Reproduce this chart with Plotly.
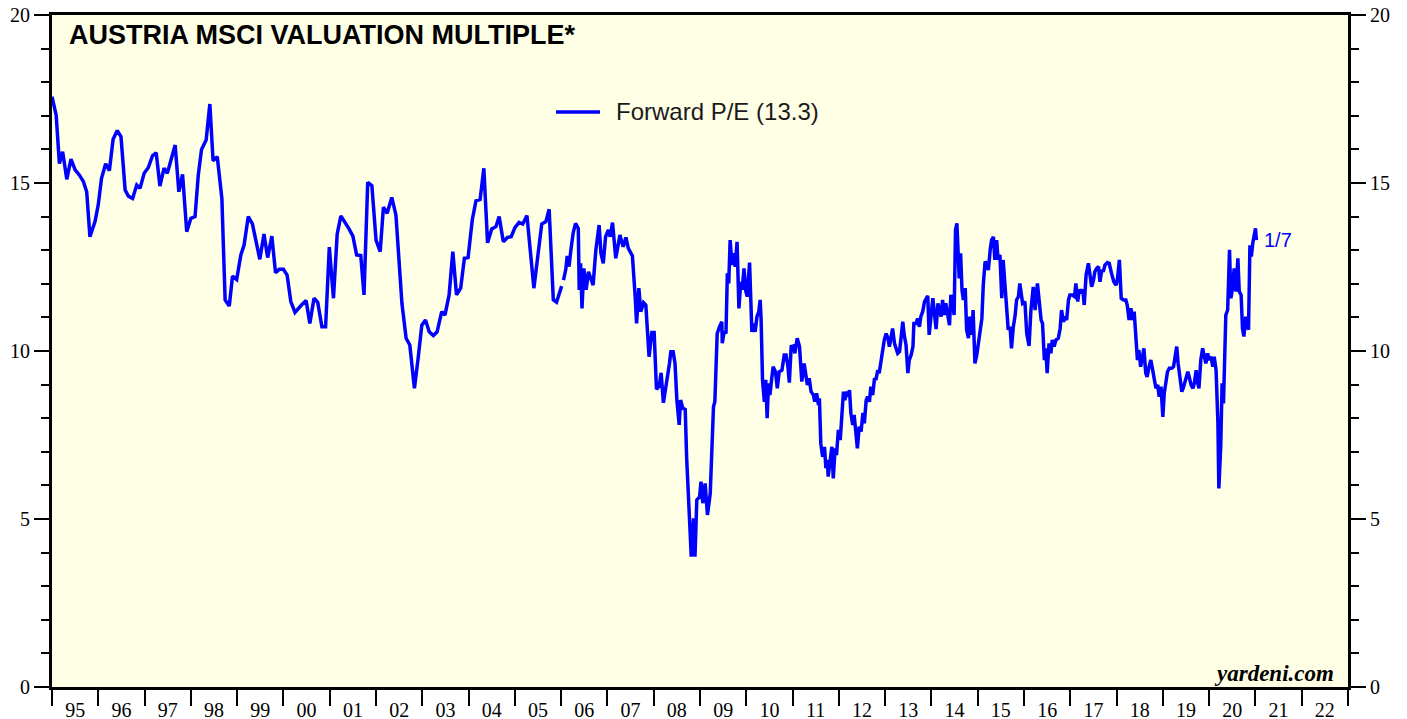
"""
Austria MSCI forward P/E, Yardeni style chart.
"""
from datetime import datetime

import plotly.graph_objects as go

years = [
    1995.00, 1995.09, 1995.16, 1995.23, 1995.32, 1995.41, 1995.50, 1995.59, 1995.68, 1995.75,
    1995.82, 1995.93, 1996.00, 1996.07, 1996.16, 1996.24, 1996.32, 1996.41, 1996.49, 1996.58,
    1996.65, 1996.74, 1996.83, 1996.90, 1996.99, 1997.08, 1997.17, 1997.25, 1997.33, 1997.42,
    1997.49, 1997.66, 1997.74, 1997.82, 1997.91, 1998.00, 1998.09, 1998.16, 1998.23, 1998.33,
    1998.41, 1998.48, 1998.57, 1998.67, 1998.74, 1998.83, 1998.90, 1998.99, 1999.08, 1999.15,
    1999.24, 1999.33, 1999.49, 1999.58, 1999.66, 1999.75, 1999.83, 1999.91, 2000.00, 2000.08,
    2000.16, 2000.25, 2000.39, 2000.49, 2000.57, 2000.66, 2000.74, 2000.83, 2000.91, 2000.99,
    2001.08, 2001.16, 2001.24, 2001.32, 2001.41, 2001.50, 2001.58, 2001.67, 2001.74, 2001.82,
    2001.91, 2002.00, 2002.09, 2002.16, 2002.24, 2002.34, 2002.43, 2002.56, 2002.65, 2002.73,
    2002.83, 2002.91, 2002.99, 2003.07, 2003.15, 2003.24, 2003.32, 2003.42, 2003.49, 2003.58,
    2003.66, 2003.74, 2003.83, 2003.91, 2003.99, 2004.08, 2004.16, 2004.25, 2004.33, 2004.41,
    2004.50, 2004.59, 2004.66, 2004.75, 2004.84, 2004.92, 2005.00, 2005.09, 2005.17, 2005.26,
    2005.41, 2005.58, 2005.67, 2005.74, 2005.83, 2005.90, 2006.01, 2006.03, 2006.05, 2006.10,
    2006.13, 2006.17, 2006.21, 2006.26, 2006.31, 2006.37, 2006.39, 2006.42, 2006.45, 2006.49,
    2006.54, 2006.59, 2006.64, 2006.69, 2006.75, 2006.82, 2006.86, 2006.91, 2006.96, 2007.02,
    2007.06, 2007.11, 2007.18, 2007.27, 2007.34, 2007.40, 2007.45, 2007.54, 2007.60, 2007.63,
    2007.68, 2007.72, 2007.78, 2007.83, 2007.90, 2007.96, 2008.01, 2008.06, 2008.12, 2008.16,
    2008.21, 2008.28, 2008.34, 2008.37, 2008.42, 2008.46, 2008.50, 2008.55, 2008.58, 2008.63,
    2008.68, 2008.71, 2008.76, 2008.81, 2008.86, 2008.89, 2008.93, 2008.99, 2009.02, 2009.06,
    2009.11, 2009.16, 2009.22, 2009.25, 2009.29, 2009.32, 2009.37, 2009.42, 2009.47, 2009.48,
    2009.52, 2009.56, 2009.59, 2009.62, 2009.65, 2009.69, 2009.72, 2009.76, 2009.80, 2009.84,
    2009.88, 2009.91, 2009.95, 2009.99, 2010.02, 2010.07, 2010.12, 2010.15, 2010.19, 2010.23,
    2010.27, 2010.30, 2010.32, 2010.35, 2010.39, 2010.42, 2010.45, 2010.48, 2010.51, 2010.55,
    2010.58, 2010.63, 2010.67, 2010.71, 2010.77, 2010.82, 2010.86, 2010.90, 2010.93, 2010.97,
    2011.02, 2011.05, 2011.10, 2011.15, 2011.20, 2011.25, 2011.29, 2011.32, 2011.36, 2011.40,
    2011.45, 2011.48, 2011.52, 2011.56, 2011.58, 2011.61, 2011.65, 2011.69, 2011.72, 2011.75,
    2011.77, 2011.81, 2011.85, 2011.88, 2011.92, 2011.95, 2011.99, 2012.03, 2012.07, 2012.10,
    2012.13, 2012.17, 2012.20, 2012.23, 2012.26, 2012.30, 2012.33, 2012.37, 2012.40, 2012.44,
    2012.48, 2012.52, 2012.55, 2012.59, 2012.62, 2012.66, 2012.69, 2012.73, 2012.77, 2012.80,
    2012.84, 2012.87, 2012.90, 2012.95, 2012.98, 2013.02, 2013.06, 2013.09, 2013.12, 2013.16,
    2013.20, 2013.23, 2013.27, 2013.31, 2013.34, 2013.38, 2013.41, 2013.45, 2013.49, 2013.52,
    2013.56, 2013.60, 2013.62, 2013.67, 2013.70, 2013.74, 2013.77, 2013.81, 2013.85, 2013.88,
    2013.92, 2013.95, 2013.99, 2014.03, 2014.06, 2014.10, 2014.14, 2014.17, 2014.21, 2014.24,
    2014.28, 2014.31, 2014.35, 2014.39, 2014.42, 2014.46, 2014.49, 2014.52, 2014.55, 2014.57,
    2014.60, 2014.63, 2014.66, 2014.69, 2014.73, 2014.76, 2014.80, 2014.83, 2014.87, 2014.90,
    2014.94, 2014.98, 2015.01, 2015.05, 2015.09, 2015.12, 2015.16, 2015.19, 2015.23, 2015.27,
    2015.30, 2015.34, 2015.37, 2015.41, 2015.44, 2015.48, 2015.52, 2015.55, 2015.59, 2015.63,
    2015.66, 2015.70, 2015.73, 2015.77, 2015.81, 2015.84, 2015.88, 2015.91, 2015.97, 2016.02,
    2016.06, 2016.11, 2016.15, 2016.20, 2016.24, 2016.29, 2016.33, 2016.37, 2016.40, 2016.44,
    2016.47, 2016.50, 2016.54, 2016.58, 2016.61, 2016.65, 2016.69, 2016.74, 2016.78, 2016.81,
    2016.85, 2016.89, 2016.92, 2016.96, 2016.99, 2017.04, 2017.09, 2017.12, 2017.16, 2017.19,
    2017.23, 2017.27, 2017.30, 2017.34, 2017.39, 2017.43, 2017.46, 2017.50, 2017.53, 2017.57,
    2017.61, 2017.64, 2017.68, 2017.71, 2017.75, 2017.80, 2017.84, 2017.89, 2017.94, 2017.99,
    2018.02, 2018.06, 2018.10, 2018.15, 2018.20, 2018.23, 2018.27, 2018.31, 2018.34, 2018.38,
    2018.42, 2018.45, 2018.48, 2018.52, 2018.56, 2018.59, 2018.63, 2018.66, 2018.70, 2018.74,
    2018.78, 2018.82, 2018.85, 2018.89, 2018.92, 2018.96, 2019.00, 2019.03, 2019.07, 2019.10,
    2019.14, 2019.19, 2019.23, 2019.26, 2019.30, 2019.33, 2019.37, 2019.41, 2019.44, 2019.49,
    2019.54, 2019.57, 2019.61, 2019.65, 2019.68, 2019.72, 2019.74, 2019.78, 2019.80, 2019.82,
    2019.86, 2019.90, 2019.93, 2019.97, 2020.00, 2020.04, 2020.08, 2020.11, 2020.15, 2020.19,
    2020.21, 2020.25, 2020.28, 2020.31, 2020.34, 2020.36, 2020.40, 2020.44, 2020.47, 2020.51,
    2020.54, 2020.58, 2020.62, 2020.65, 2020.69, 2020.72, 2020.75, 2020.79, 2020.82, 2020.85,
    2020.88, 2020.91, 2020.94, 2020.97, 2021.00, 2021.02,
]

# forward P/E; None marks the break in the series early in 2006
fwd_pe = [
    17.57, 17.02, 15.58, 15.93, 15.11, 15.71, 15.39, 15.24, 15.04, 14.74,
    13.40, 13.85, 14.35, 15.14, 15.57, 15.37, 16.30, 16.56, 16.38, 14.79,
    14.61, 14.54, 14.94, 14.84, 15.29, 15.46, 15.81, 15.90, 14.91, 15.44,
    15.29, 16.13, 14.74, 15.26, 13.55, 13.95, 14.00, 15.24, 16.00, 16.28,
    17.35, 15.66, 15.78, 14.54, 11.52, 11.34, 12.23, 12.13, 12.86, 13.15,
    14.00, 13.78, 12.73, 13.48, 12.78, 13.42, 12.33, 12.43, 12.43, 12.26,
    11.47, 11.15, 11.37, 11.50, 10.82, 11.57, 11.45, 10.72, 10.72, 13.09,
    11.57, 13.48, 14.02, 13.85, 13.65, 13.42, 12.86, 12.84, 11.67, 15.02,
    14.92, 13.30, 12.96, 14.28, 14.10, 14.57, 14.05, 11.42, 10.38, 10.18,
    8.89, 9.78, 10.77, 10.92, 10.57, 10.46, 10.57, 11.17, 11.07, 11.67,
    12.96, 11.67, 11.87, 12.76, 12.78, 13.90, 14.47, 14.51, 15.44, 13.22,
    13.63, 13.70, 14.00, 13.25, 13.38, 13.40, 13.67, 13.83, 13.78, 14.03,
    11.87, 13.78, 13.85, 14.22, 11.52, 11.45, 11.93, None, 12.11, 12.43,
    12.83, 12.51, 13.01, 13.52, 13.80, 13.65, 11.82, 12.61, 11.27, 12.46,
    11.82, 12.36, 12.16, 11.96, 13.01, 13.75, 12.91, 12.61, 13.40, 13.60,
    13.40, 13.82, 12.76, 13.45, 13.10, 13.38, 13.06, 12.83, 11.62, 10.82,
    11.87, 11.17, 11.44, 11.37, 9.83, 10.55, 10.55, 8.86, 8.96, 9.35,
    8.46, 9.04, 9.63, 9.98, 9.98, 9.63, 8.54, 7.80, 8.54, 8.29,
    8.26, 6.85, 5.47, 3.88, 5.02, 3.88, 5.57, 5.66, 6.11, 5.47,
    6.06, 5.12, 5.76, 6.95, 8.34, 8.49, 10.52, 10.72, 10.87, 10.23,
    10.57, 10.52, 12.31, 12.01, 13.30, 12.56, 12.91, 12.51, 13.25, 11.27,
    12.06, 11.82, 12.46, 11.77, 11.62, 12.63, 10.57, 10.82, 10.57, 11.02,
    11.17, 11.52, 10.92, 9.14, 8.49, 9.14, 8.00, 9.04, 8.69, 9.19,
    9.53, 9.38, 8.89, 9.38, 9.43, 9.88, 9.88, 9.53, 9.06, 10.13,
    10.15, 9.93, 10.38, 10.13, 9.09, 9.63, 9.14, 8.99, 9.19, 8.79,
    8.69, 8.49, 8.74, 8.39, 8.59, 7.25, 6.85, 7.15, 6.51, 6.76,
    6.26, 6.81, 7.15, 6.21, 7.10, 6.90, 7.65, 7.35, 8.19, 8.79,
    8.54, 8.79, 8.64, 8.84, 8.15, 7.80, 8.10, 7.35, 7.10, 7.75,
    7.60, 8.16, 7.85, 8.54, 8.64, 8.49, 8.94, 8.69, 9.19, 9.14,
    9.43, 9.34, 9.63, 9.93, 10.33, 10.52, 10.38, 10.13, 10.43, 10.67,
    10.23, 10.08, 9.93, 9.98, 10.43, 10.87, 10.48, 10.18, 9.34, 9.73,
    9.88, 10.13, 10.82, 10.82, 10.97, 10.72, 11.02, 11.17, 11.47, 11.57,
    11.64, 10.48, 11.02, 11.57, 11.17, 10.65, 11.42, 11.27, 11.02, 11.52,
    11.07, 11.42, 11.12, 10.77, 11.67, 11.42, 11.07, 13.60, 13.80, 13.30,
    12.16, 12.91, 11.82, 11.52, 11.87, 10.63, 10.38, 11.02, 10.48, 11.22,
    9.63, 9.88, 10.23, 10.63, 10.97, 11.96, 12.66, 12.61, 12.41, 13.01,
    13.30, 13.40, 12.71, 13.30, 12.71, 12.86, 11.57, 12.71, 11.96, 11.52,
    10.63, 10.72, 10.08, 10.72, 11.07, 11.52, 11.62, 12.01, 11.42, 11.47,
    10.52, 10.15, 11.22, 11.91, 11.22, 12.01, 11.52, 10.92, 10.82, 9.73,
    10.08, 9.34, 10.23, 9.93, 10.33, 10.13, 10.33, 10.38, 10.67, 11.22,
    10.87, 11.02, 10.92, 11.52, 11.67, 11.67, 11.62, 12.01, 11.47, 11.82,
    11.77, 11.82, 11.37, 12.26, 12.61, 12.26, 11.91, 12.11, 12.36, 12.46,
    12.51, 12.06, 12.41, 12.36, 12.56, 12.63, 12.61, 12.31, 12.06, 11.96,
    12.16, 12.71, 11.57, 11.52, 11.52, 11.37, 10.92, 11.27, 10.92, 11.17,
    10.23, 9.73, 10.03, 9.53, 9.83, 10.08, 9.34, 9.23, 9.53, 9.73,
    9.43, 9.04, 8.89, 8.99, 8.64, 8.94, 8.04, 8.74, 9.14, 9.38,
    9.49, 9.49, 9.53, 9.83, 10.13, 9.63, 9.19, 8.79, 8.89, 9.14,
    9.38, 9.23, 8.99, 8.89, 9.04, 9.43, 9.14, 8.89, 9.23, 9.73,
    10.08, 9.83, 9.63, 9.93, 9.73, 9.83, 9.53, 9.83, 9.43, 7.85,
    5.91, 7.15, 9.04, 8.44, 10.23, 11.07, 11.22, 13.01, 11.57, 11.91,
    12.46, 11.77, 12.76, 11.77, 11.67, 10.67, 10.43, 11.02, 10.82, 10.63,
    13.15, 12.81, 13.20, 13.40, 13.65, 13.30,
]

legend_label = "Forward P/E (13.3)"
last_label = "1/7"
title_text = "AUSTRIA MSCI VALUATION MULTIPLE*"


def year_to_date(y):
    start = datetime(int(y), 1, 1)
    end = datetime(int(y) + 1, 1, 1)
    return start + (end - start) * (y - int(y))


dates = [year_to_date(y) for y in years]

BLUE = "#0000FF"
SERIF = "Liberation Serif, Times New Roman, serif"
SANS = "Liberation Sans, Arial, sans-serif"

fig = go.Figure()
fig.add_trace(go.Scatter(
    x=dates, y=fwd_pe, mode="lines", name=legend_label,
    line=dict(color=BLUE, width=3.5), showlegend=False,
))
# carrier for the right-hand axis
fig.add_trace(go.Scatter(
    x=dates, y=fwd_pe, mode="lines", yaxis="y2", hoverinfo="skip",
    line=dict(width=0), opacity=0, showlegend=False,
))

axis_common = dict(
    range=[0, 20], dtick=5, tick0=0, showgrid=False, zeroline=False,
    automargin=False, ticklabeloverflow="allow",
    showline=True, linecolor="black", linewidth=3,
    ticks="outside", ticklen=15, tickwidth=2, tickcolor="black",
    tickfont=dict(family=SERIF, size=20, color="black"),
    minor=dict(dtick=1, ticks="outside", ticklen=8, tickwidth=2,
               tickcolor="black", showgrid=False),
)

# the page body adds an 8px offset, so the figure is sized to fit what is left
fig.update_layout(
    width=1399, height=711,
    margin=dict(l=44, r=59, t=7, b=32, autoexpand=False),
    paper_bgcolor="white",
    plot_bgcolor="#FFFFE6",
    xaxis=dict(
        type="date", range=["1995-01-01", "2023-01-01"],
        dtick="M12", tick0="1995-01-01", tickformat="%y",
        ticklabelmode="period", ticklabelstandoff=-13,
        ticklabeloverflow="allow",
        showgrid=False, zeroline=False, automargin=False,
        showline=True, mirror=True, linecolor="black", linewidth=3,
        ticks="outside", ticklen=16, tickwidth=2, tickcolor="black",
        tickfont=dict(family=SERIF, size=20, color="black"),
    ),
    yaxis=dict(side="left", **axis_common),
    yaxis2=dict(side="right", overlaying="y", **axis_common),
    annotations=[
        dict(text=title_text, xref="paper", yref="paper",
             x=0.0116, y=0.9702, xanchor="left", yanchor="middle", showarrow=False,
             font=dict(family=SANS, size=27, color="black", weight="bold")),
        dict(text=legend_label, xref="paper", yref="paper",
             x=0.4336, y=0.8557, xanchor="left", yanchor="middle", showarrow=False,
             font=dict(family=SANS, size=24, color="#1a1a1a")),
        dict(text=last_label, x=dates[-1], y=fwd_pe[-1], xref="x", yref="y",
             xanchor="left", yanchor="middle", xshift=6, showarrow=False,
             font=dict(family=SANS, size=20, color=BLUE)),
        dict(text="yardeni.com", xref="paper", yref="paper",
             x=0.9907, y=0.0208, xanchor="right", yanchor="middle", showarrow=False,
             font=dict(family=SERIF, size=23, color="black",
                       weight="bold", style="italic")),
    ],
    shapes=[
        dict(type="line", xref="paper", yref="paper",
             x0=0.3889, x1=0.4228, y0=0.8557, y1=0.8557,
             line=dict(color=BLUE, width=3.5)),
    ],
)

fig.write_html("out.html")
